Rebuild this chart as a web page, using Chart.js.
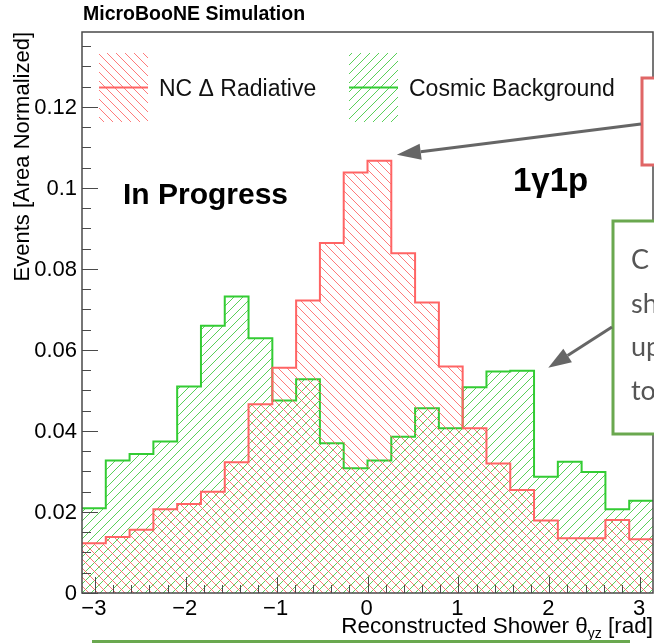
<!DOCTYPE html>
<html>
<head>
<meta charset="utf-8">
<script src="https://cdn.jsdelivr.net/npm/chart.js@4.4.0/dist/chart.umd.min.js"></script>
<style>
  html, body { margin: 0; padding: 0; background: #fff; }
</style>
</head>
<body>
<canvas id="thetaChart" width="654" height="644"></canvas>
<script>
// ---- histogram data (24 bins from -pi to pi) ----
const xRange = [-Math.PI, Math.PI];
const nBins = 24;
const ncDeltaRad = [0.0123, 0.0138, 0.0156, 0.0207, 0.0220, 0.0250, 0.0323, 0.0466,
                    0.0556, 0.0722, 0.0864, 0.1038, 0.1067, 0.0839, 0.0717, 0.0559,
                    0.0407, 0.0320, 0.0254, 0.0179, 0.0135, 0.0135, 0.0180, 0.0133];
const cosmicBkg  = [0.0209, 0.0327, 0.0343, 0.0374, 0.0510, 0.0660, 0.0732, 0.0629,
                    0.0475, 0.0528, 0.0370, 0.0308, 0.0327, 0.0386, 0.0456, 0.0407,
                    0.0508, 0.0547, 0.0549, 0.0287, 0.0324, 0.0299, 0.0207, 0.0228];
const seriesNames = ['NC \u0394 Radiative', 'Cosmic Background'];
const yTickLabels = ['0', '0.02', '0.04', '0.06', '0.08', '0.1', '0.12'];
const xTickLabels = ['\u22123', '\u22122', '\u22121', '0', '1', '2', '3'];
const yMax = 0.1385;

const FONT = "'Liberation Sans', Arial, Helvetica, sans-serif";

// ROOT-like hatch fill (dir 1 = '/', -1 = '\')
function makeHatch(color, dir) {
  const s = 9;
  const c = document.createElement('canvas');
  c.width = s; c.height = s;
  const g = c.getContext('2d');
  g.strokeStyle = color;
  g.lineWidth = 1;
  g.beginPath();
  if (dir > 0) {
    g.moveTo(0, s); g.lineTo(s, 0);
    g.moveTo(-1, 1); g.lineTo(1, -1);
    g.moveTo(s - 1, s + 1); g.lineTo(s + 1, s - 1);
  } else {
    g.moveTo(0, 0); g.lineTo(s, s);
    g.moveTo(-1, s - 1); g.lineTo(1, s + 1);
    g.moveTo(s - 1, -1); g.lineTo(s + 1, 1);
  }
  g.stroke();
  return g.createPattern(c, 'repeat');
}

// step points: left edge of each bin, plus the closing right edge
function histPoints(vals) {
  const w = (xRange[1] - xRange[0]) / nBins;
  const pts = vals.map((v, i) => ({ x: xRange[0] + i * w, y: v }));
  pts.push({ x: xRange[1], y: vals[vals.length - 1] });
  return pts;
}

function arrow(ctx, x0, y0, x1, y1, head, half) {
  const ang = Math.atan2(y1 - y0, x1 - x0);
  const bx = x1 - head * Math.cos(ang), by = y1 - head * Math.sin(ang);
  ctx.beginPath(); ctx.moveTo(x0, y0); ctx.lineTo(bx, by); ctx.stroke();
  ctx.beginPath();
  ctx.moveTo(x1, y1);
  ctx.lineTo(bx + half * Math.sin(ang), by - half * Math.cos(ang));
  ctx.lineTo(bx - half * Math.sin(ang), by + half * Math.cos(ang));
  ctx.closePath(); ctx.fill();
}

const rootStyle = {
  id: 'rootStyle',
  afterDraw(chart) {
    const { ctx, chartArea: a } = chart;
    const x = chart.scales.x, y = chart.scales.y;
    ctx.save();

    // frame
    ctx.strokeStyle = '#4a4a4a';
    ctx.lineWidth = 1.5;
    ctx.strokeRect(a.left, a.top, a.right - a.left, a.bottom - a.top);

    // ticks, inside the frame
    ctx.lineWidth = 1;
    ctx.beginPath();
    for (let k = 0; k * 0.005 <= yMax; k++) {
      const py = Math.round(y.getPixelForValue(k * 0.005)) + 0.5;
      const len = k % 4 === 0 ? 16 : 9;
      ctx.moveTo(a.left, py); ctx.lineTo(a.left + len, py);
    }
    for (let k = -15; k <= 15; k++) {
      const v = k * 0.2;
      if (v < x.min || v > x.max) continue;
      const px = Math.round(x.getPixelForValue(v)) + 0.5;
      const len = k % 5 === 0 ? 16 : 8;
      ctx.moveTo(px, a.bottom); ctx.lineTo(px, a.bottom - len);
    }
    ctx.stroke();

    // tick labels
    ctx.fillStyle = '#000';
    ctx.font = '22px ' + FONT;
    ctx.textAlign = 'right';
    ctx.textBaseline = 'middle';
    yTickLabels.forEach(t => {
      ctx.fillText(t, a.left - 5, y.getPixelForValue(parseFloat(t)) + 1);
    });
    ctx.textAlign = 'center';
    xTickLabels.forEach(t => {
      const v = parseFloat(t.replace('\u2212', '-'));
      ctx.fillText(t, x.getPixelForValue(v) - 1, a.bottom + 16);
    });

    // axis titles
    ctx.textBaseline = 'alphabetic';
    ctx.textAlign = 'right';
    const sub = 'yz', tail = ' [rad]';
    ctx.font = '22.5px ' + FONT;
    const wTail = ctx.measureText(tail).width;
    ctx.font = '14px ' + FONT;
    const wSub = ctx.measureText(sub).width;
    ctx.font = '22.5px ' + FONT;
    ctx.fillText(tail, a.right, 633);
    ctx.font = '14px ' + FONT;
    ctx.fillText(sub, a.right - wTail, 638);
    ctx.font = '22.5px ' + FONT;
    ctx.fillText('Reconstructed Shower \u03b8', a.right - wTail - wSub, 633);

    ctx.save();
    ctx.translate(29, a.top);
    ctx.rotate(-Math.PI / 2);
    ctx.font = '22px ' + FONT;
    ctx.fillText('Events [Area Normalized]', 0, 0);
    ctx.restore();

    // header text
    ctx.textAlign = 'left';
    ctx.font = 'bold 19.5px ' + FONT;
    ctx.fillText('MicroBooNE Simulation', 83, 20);
    ctx.font = 'bold 30px ' + FONT;
    ctx.fillText('In Progress', 123, 204);
    ctx.font = 'bold 33px ' + FONT;
    ctx.fillText('1\u03b31p', 513, 191);

    // legend
    const legendX = [99, 349];
    chart.data.datasets.forEach((ds, i) => {
      const lx = legendX[i], ly = 53, w = 49, h = 69;
      ctx.fillStyle = ds.backgroundColor;
      ctx.fillRect(lx, ly, w, h);
      ctx.strokeStyle = ds.borderColor;
      ctx.lineWidth = 2;
      ctx.beginPath(); ctx.moveTo(lx, ly + h / 2); ctx.lineTo(lx + w, ly + h / 2); ctx.stroke();
      ctx.fillStyle = '#111';
      ctx.font = '23px ' + FONT;
      ctx.fillText(ds.label, lx + w + 11, 96);
    });

    // slide annotations drawn over the plot
    ctx.lineWidth = 3;
    ctx.fillStyle = '#fff';
    ctx.strokeStyle = '#e06666';
    ctx.fillRect(642, 78, 20, 87);
    ctx.strokeRect(642, 78, 20, 87);
    ctx.strokeStyle = '#6aa84f';
    ctx.fillRect(613, 221, 50, 213);
    ctx.strokeRect(613, 221, 50, 213);
    ctx.beginPath(); ctx.moveTo(92, 641.5); ctx.lineTo(630, 641.5); ctx.stroke();

    ctx.fillStyle = '#555';
    ctx.font = '27px Lato, ' + FONT;
    ['C', 'sh', 'up', 'to'].forEach((t, i) => ctx.fillText(t, 631, 269 + i * 43.5));

    ctx.strokeStyle = '#666';
    ctx.fillStyle = '#666';
    ctx.lineWidth = 3;
    arrow(ctx, 641, 124, x.getPixelForValue(0.323), y.getPixelForValue(0.1082), 24, 8);
    arrow(ctx, 612, 327, x.getPixelForValue(1.989), y.getPixelForValue(0.0556), 23, 8);

    ctx.restore();
  }
};

const ctx = document.getElementById('thetaChart').getContext('2d');
new Chart(ctx, {
  type: 'line',
  data: {
    datasets: [{
      label: seriesNames[0],
      data: histPoints(ncDeltaRad),
      stepped: true,
      borderColor: '#ff6464',
      borderWidth: 2,
      backgroundColor: makeHatch('rgba(255,100,100,0.85)', -1),
      fill: 'origin',
      pointRadius: 0
    }, {
      label: seriesNames[1],
      data: histPoints(cosmicBkg),
      stepped: true,
      borderColor: '#33cc33',
      borderWidth: 2,
      backgroundColor: makeHatch('rgba(60,200,60,0.85)', 1),
      fill: 'origin',
      pointRadius: 0
    }]
  },
  options: {
    responsive: false,
    animation: false,
    layout: { padding: { left: 82, top: 32, right: 1, bottom: 51 } },
    plugins: { legend: { display: false }, tooltip: { enabled: false } },
    scales: {
      x: { type: 'linear', min: xRange[0], max: xRange[1], display: false },
      y: { min: 0, max: yMax, display: false }
    }
  },
  plugins: [rootStyle]
});
</script>
</body>
</html>
